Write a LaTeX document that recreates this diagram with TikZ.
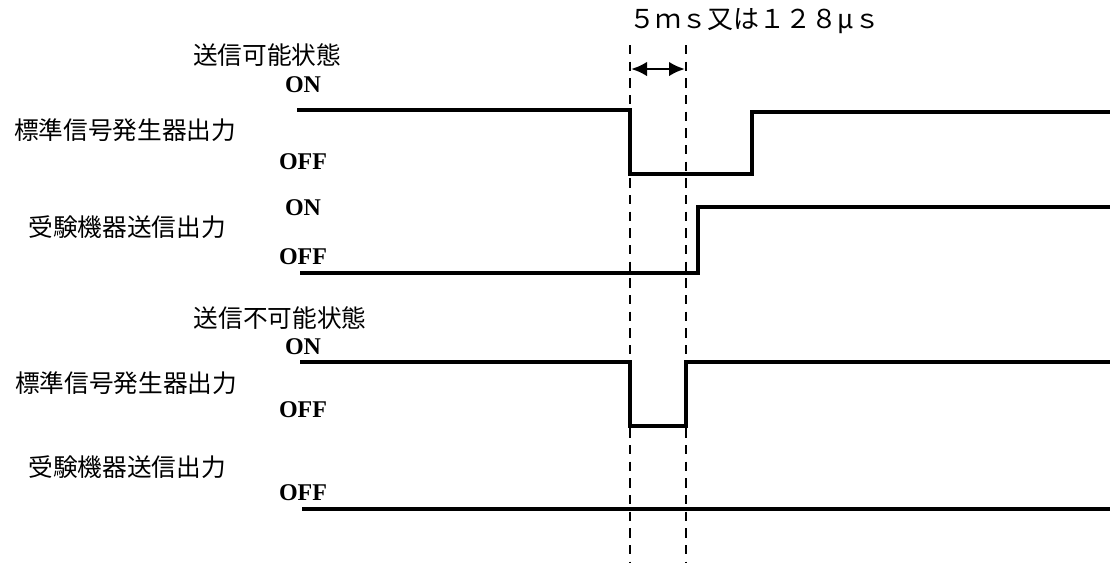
\documentclass[tikz,border=0pt]{standalone}
\usepackage{fontspec}
\setmainfont{Liberation Serif}
\newfontfamily\cjk{Noto Sans CJK JP}
\usetikzlibrary{arrows.meta}
\tikzset{
  wave/.style={line width=3.2pt,line join=miter},
  guide/.style={line width=2pt,dash pattern=on 7pt off 5.5pt},
  span/.style={line width=2.2pt,{Latex[length=12pt,width=11pt]}-{Latex[length=12pt,width=11pt]}},
  lvl/.style={font=\bfseries\fontsize{18}{18}\selectfont},
  jlabel/.style={font=\cjk\fontsize{18.5}{18.5}\selectfont},
}
\begin{document}
\begin{tikzpicture}[x=0.75pt,y=-0.75pt]
  \useasboundingbox (0,0) rectangle (1110,562);
  % time marks
  \coordinate (t1) at (630,45);
  \coordinate (t2) at (686,45);
  \draw [guide] (t1) -- (630,562);
  \draw [guide] (t2) -- (686,562);
  \coordinate (a1) at (631,69);
  \coordinate (a2) at (685,69);
  \draw [span] (a1) -- (a2);
  \node [jlabel,font=\cjk\fontsize{19.5}{19.5}\selectfont] (width) at (755,21) {５ｍｓ又は１２８μｓ};
  % transmittable state
  \node [jlabel] (ok) at (267,55) {送信可能状態};
  \node [lvl] (on1) at (303,85) {ON};
  \node [jlabel] (sg1) at (125,130) {標準信号発生器出力};
  \node [lvl] (off1) at (303,162) {OFF};
  \node [lvl] (on2) at (303,208) {ON};
  \node [jlabel] (eut1) at (127,227) {受験機器送信出力};
  \node [lvl] (off2) at (303,257) {OFF};
  \draw [wave] (297,110) -- (630,110) -- (630,174) -- (752,174) -- (752,112) -- (1110,112);
  \draw [wave] (300,273) -- (698,273) -- (698,207) -- (1110,207);
  % non-transmittable state
  \node [jlabel] (ng) at (280,318) {送信不可能状態};
  \node [lvl] (on3) at (303,347) {ON};
  \node [jlabel] (sg2) at (126,383) {標準信号発生器出力};
  \node [lvl] (off3) at (303,410) {OFF};
  \node [jlabel] (eut2) at (127,467) {受験機器送信出力};
  \node [lvl] (off4) at (303,493) {OFF};
  \draw [wave] (300,362) -- (630,362) -- (630,426) -- (686,426) -- (686,362) -- (1110,362);
  \draw [wave] (302,509) -- (1110,509);
\end{tikzpicture}
\end{document}
